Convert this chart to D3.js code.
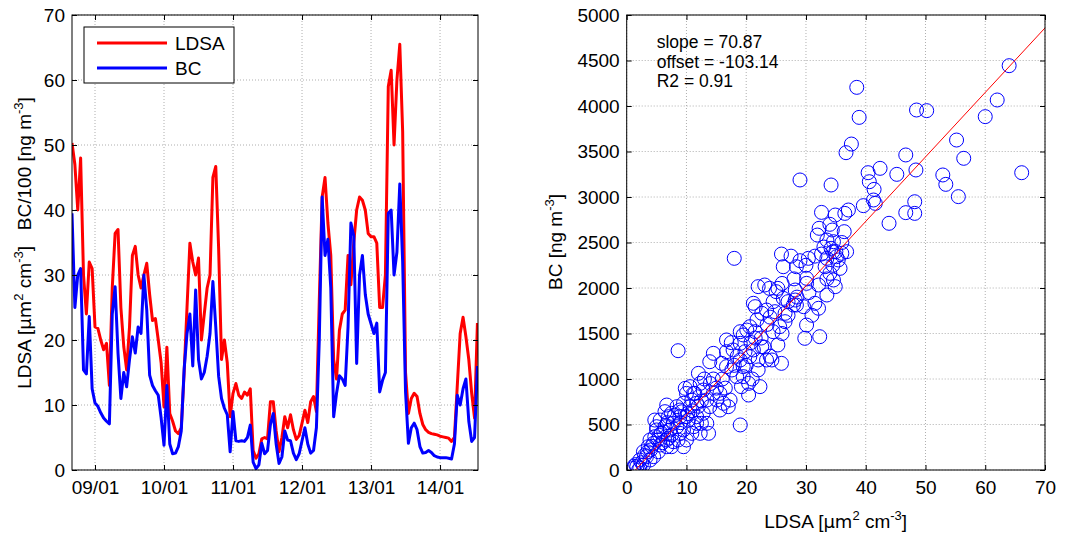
<!DOCTYPE html>
<html>
<head>
<meta charset="utf-8">
<script src="https://cdn.jsdelivr.net/npm/d3@7"></script>
<style>
  body { margin: 0; background: #fff; }
  text { font-family: Arial, "Liberation Sans", Helvetica, sans-serif; }
</style>
</head>
<body>
<div id="chart"></div>
<script>
// hourly series, starting 08/01 16:00
const ldsa = [50.3, 47, 40, 48, 30, 24, 32, 31, 22, 21.8, 20, 18.5, 19.5, 13, 28, 36.4, 37, 25, 19, 15.4,
  22, 33, 34.4, 30, 28, 30, 31.8, 27, 23, 23.3, 20, 16.5, 9.7, 18.9, 8.7, 7.5, 6, 5.6, 6.5, 15,
  25, 34.9, 32, 30, 32.6, 20, 24, 28, 30, 45, 46.7, 34, 17, 20, 16.5, 8.2, 11.8, 13.3, 11.5, 11,
  12, 11.5, 12.5, 3, 1.8, 2.5, 4.8, 5, 4.8, 10.5, 10.5, 6, 2.8, 5, 8.2, 6.5, 8.5, 6.2, 4.7, 5.3,
  7.2, 9.2, 7.3, 10.5, 11.3, 9, 26, 42, 45, 38, 33, 17, 14, 21.5, 24, 24.6, 33, 28.5, 35, 40,
  42, 41.5, 40, 36.4, 35.9, 35.9, 34.9, 25, 25, 30, 59, 61.5, 50, 60, 65.5, 52, 15, 8.7, 11, 11.8,
  11.3, 8.7, 7, 6.2, 5.8, 5.6, 5.5, 5.4, 5.2, 5.1, 5, 4.9, 4.4, 5, 13, 21, 23.5, 20.5, 17, 11.8,
  8, 22.6];
const bc100 = [39.5, 25, 30, 31, 15.4, 14.8, 23.6, 12.5, 10.3, 9.8, 8.8, 8, 7.5, 7.1, 24, 28.2, 18, 11, 15, 12.8,
  17, 20.5, 18, 22, 21, 30, 24.6, 14.6, 13, 12.2, 11.5, 8, 3.8, 13, 4, 2.5, 2.6, 3.6, 6, 15.5,
  21, 24, 16, 27.7, 17, 14, 15, 17.5, 21, 29, 22, 14.4, 11, 9.5, 8.5, 2.8, 9, 4.5, 4.4, 4.5,
  4.4, 5, 6.9, 1.2, 0.2, 0.8, 4.1, 2.5, 3, 7, 8.7, 4, 1, 2, 6, 4.6, 4.5, 2.6, 1.6, 2.5,
  4.5, 6.5, 4, 2.6, 3, 6.5, 20, 42, 33, 35.5, 28, 8.2, 11.8, 14.5, 14, 13, 22, 38, 36, 16.4,
  30, 33, 27, 24, 22.5, 21, 22.6, 12, 13.8, 15, 39.5, 40, 30, 33.5, 44, 32, 12, 4.1, 6.5, 7.2,
  6.2, 3.6, 2.6, 2.7, 3, 2.7, 2.2, 2, 1.9, 1.9, 1.9, 1.8, 1.7, 4, 11.5, 10, 12.5, 14, 7.5, 4.4,
  5, 16];
const tickDays = ["09/01", "10/01", "11/01", "12/01", "13/01", "14/01"];
const leftTicks = [0, 10, 20, 30, 40, 50, 60, 70];

// scatter: [LDSA, BC]
const scatterPts = [
  [64.0,4443],[38.5,4205],[48.5,3956],[50.2,3949],[62.0,4066],[60.0,3883],[38.9,3875],[37.6,3582],[36.7,3487],
  [55.2,3626],[56.4,3425],[46.7,3462],[48.4,3297],[42.4,3315],[40.4,3267],[45.2,3249],[52.9,3242],[53.4,3139],
  [66.1,3267],[29.0,3187],[34.2,3132],[40.6,3168],[41.4,3084],[55.5,3004],[39.6,2905],[41.3,2967],[41.6,2930],
  [48.2,2948],[46.7,2828],[48.2,2820],[32.6,2831],[34.9,2802],[36.5,2820],[37.1,2857],[43.9,2711],[32.2,2656],
  [31.9,2582],[34.4,2637],[36.4,2619],[33.5,2527],[34.6,2509],[34.2,2436],[36.8,2399],[36.0,2381],[34.5,2399],
  [32.6,2373],[35.1,2344],[25.9,2373],[30.4,2326],[18.0,2326],[33.5,2326],[35.4,2308],[26.2,2234],[28.4,2234],
  [33.2,2234],[35.7,2216],
  [30.1,2106],[34.0,2161],[34.6,2088],[34.9,2015],[32.1,2033],[33.5,1923],[30.1,2051],[28.2,1978],[28.2,1868],
  [28.4,1813],[27.0,1850],[26.2,1886],[25.0,1960],[23.9,1996],[23.1,2033],[22.0,2015],[25.3,1996],[24.8,1740],
  [23.4,1758],[22.6,1722],[21.5,1795],[20.6,1575],[21.5,1520],[24.5,1520],[25.3,1374],[25.9,1172],[24.3,1209],
  [25.6,1575],[26.5,1630],[26.5,1722],[30.1,1593],[29.8,1447],[32.3,1465],[32.1,1777],[31.5,1832],[29.6,1795],
  [27.9,1813],[19.0,495],[8.6,1311],[21.2,1832],[19.0,1520],[19.5,1484],[20.1,1538],[19.0,1392],[17.8,1319],
  [16.7,1429],[16.7,1300],[15.9,1172],[16.7,1136],[17.6,1099],[18.4,1026],[19.5,1026],[20.4,952],[20.4,824],
  [19.2,916],[22.3,916],[22.0,1209],[23.4,1209],[21.2,1319],[22.6,1355],[20.6,1245],[19.5,1136],[19.0,1209],
  [14.5,1282],[13.9,1190],[12.0,1062],[10.6,916],[9.8,897],[10.0,842],[11.2,842],[12.3,952],[12.8,879],
  [13.4,769],[14.5,842],[15.6,842],[16.2,733],[15.6,659],[17.3,769],[17.0,696],[15.1,769],[13.9,696],
  [12.8,623],[11.7,586],[10.3,549],[8.9,586],[8.4,476],[8.9,403],[7.5,385],[7.8,311],[6.7,256],[5.3,201],
  [4.5,147],[3.9,110],[2.8,55],[1.7,37],[1.1,18],[2.0,0],[13.7,403],[13.4,513],[12.5,513],[10.9,403],
  [10.0,330],[11.2,476],[9.5,256],[8.6,330],[7.8,513],[7.0,586],[5.6,549],[4.7,549],[5.0,476],[5.8,403],
  [4.7,366],[3.9,330],[3.6,256],[2.8,201],[3.3,147],[2.2,110],[6.4,641],[6.7,714],[8.4,696],[9.5,733],
  [10.6,696],[11.7,733],[10.9,769],[11.4,842],[8.9,659],[7.5,623],[5.0,440],[6.4,476],[7.3,440],[4.5,293],
  [5.6,275],[6.7,330],[7.5,256],[9.5,440],[10.0,586],[11.7,513],[12.3,403],
  [22.5,1450],[23.5,1600],[24.0,1680],[21.8,1650],[20.8,1400],[22.0,1100],[21.0,1000],[20.0,1150],[18.5,1250],
  [17.5,1400],[16.0,1000],[15.0,900],[14.0,950],[13.0,1000],[12.5,760],[11.0,650],[9.0,520],[7.0,350],
  [6.0,300],[5.2,330],[4.0,220],[3.0,160],[2.5,80],[1.5,60],[1.2,40],[2.2,20],[3.5,200],[4.2,260],
  [5.5,380],[6.2,420],[6.8,520],[8.0,600],[9.2,640],[10.2,620],[12.0,700],[14.5,1000],[16.5,900],[18.0,1150],
  [19.8,1300],[21.5,1450],[23.0,1350],[24.0,1250],[26.0,1500],[27.0,1700],[28.5,1900],[30.5,1950],[31.0,1700],
  [24.5,1850],[26.0,2050],[28.0,2100],[29.0,2300],[33.5,2100],[34.5,2250],[35.0,2400],[33.0,2450],[31.5,2350],
  [30.0,2250],[27.5,2350],[36.0,2500],[34.0,2700]
];
const fitSlope = 70.87, fitOffset = -103.14, fitR2 = 0.91;
const rightXTicks = [0, 10, 20, 30, 40, 50, 60, 70];
const rightYTicks = [0, 500, 1000, 1500, 2000, 2500, 3000, 3500, 4000, 4500, 5000];

const width = 1065, height = 540;
const svg = d3.select("#chart").append("svg")
    .attr("width", width)
    .attr("height", height);

const fs = 19;
const plotTop = 15, plotBottom = 470;

function drawGrid(g, x0, x1, xs, ys, xVals, yVals) {
    g.selectAll(null).data(xVals).enter().append("line")
        .attr("x1", d => xs(d)).attr("x2", d => xs(d))
        .attr("y1", plotTop).attr("y2", plotBottom)
        .attr("stroke", "#9a9a9a").attr("stroke-width", 0.8)
        .attr("stroke-dasharray", "1,2");
    g.selectAll(null).data(yVals).enter().append("line")
        .attr("x1", x0).attr("x2", x1)
        .attr("y1", d => ys(d)).attr("y2", d => ys(d))
        .attr("stroke", "#9a9a9a").attr("stroke-width", 0.8)
        .attr("stroke-dasharray", "1,2");
}

function drawAxes(g, x0, x1, xs, ys, xVals, yVals, xFmt) {
    const ax = [
        [d3.axisBottom(xs).tickValues(xVals).tickFormat(xFmt), `translate(0,${plotBottom})`],
        [d3.axisTop(xs).tickValues(xVals).tickFormat(""), `translate(0,${plotTop})`],
        [d3.axisLeft(ys).tickValues(yVals).tickFormat(d3.format("d")), `translate(${x0},0)`],
        [d3.axisRight(ys).tickValues(yVals).tickFormat(""), `translate(${x1},0)`]
    ];
    ax.forEach(([a, tr], i) => {
        const sel = g.append("g").attr("transform", tr)
            .call(a.tickSizeInner(-5).tickSizeOuter(0).tickPadding(i === 0 ? 11 : 7));
        sel.select(".domain").remove();
        sel.selectAll("line").attr("stroke", "#000");
        sel.selectAll("text").attr("font-size", fs).attr("fill", "#000")
            .style("font-family", "Arial, 'Liberation Sans', sans-serif");
    });
    g.append("rect").attr("x", x0).attr("y", plotTop)
        .attr("width", x1 - x0).attr("height", plotBottom - plotTop)
        .attr("fill", "none").attr("stroke", "#000").attr("stroke-width", 1);
}

// ---------- left panel: time series ----------
const lx0 = 72, lx1 = 478;
const t0 = new Date(2014, 0, 8, 16);
const times = ldsa.map((d, i) => new Date(2014, 0, 8, 16 + i));
const xTime = d3.scaleTime()
    .domain([t0, new Date(2014, 0, 14, 13, 12)])
    .range([lx0, lx1]);
const yLeft = d3.scaleLinear().domain([0, 70]).range([plotBottom, plotTop]);
const dayTicks = tickDays.map(s => new Date(2014, +s.slice(3, 5) - 1, +s.slice(0, 2)));
const dayFmt = d3.timeFormat("%d/%m");

const left = svg.append("g");
drawGrid(left, lx0, lx1, xTime, yLeft, dayTicks, leftTicks);

svg.append("clipPath").attr("id", "clipL").append("rect")
    .attr("x", lx0).attr("y", plotTop).attr("width", lx1 - lx0).attr("height", plotBottom - plotTop);

const line = d3.line().x((d, i) => xTime(times[i])).y(d => yLeft(d));
left.append("path").datum(ldsa)
    .attr("d", line).attr("fill", "none")
    .attr("stroke", "#ff0000").attr("stroke-width", 3)
    .attr("stroke-linejoin", "round").attr("clip-path", "url(#clipL)");
left.append("path").datum(bc100)
    .attr("d", line).attr("fill", "none")
    .attr("stroke", "#0000ff").attr("stroke-width", 3)
    .attr("stroke-linejoin", "round").attr("clip-path", "url(#clipL)");

drawAxes(left, lx0, lx1, xTime, yLeft, dayTicks, leftTicks, dayFmt);

// legend
const leg = left.append("g");
leg.append("rect").attr("x", 84).attr("y", 27).attr("width", 150).attr("height", 56)
    .attr("fill", "#fff").attr("stroke", "#000");
[["LDSA", "#ff0000", 43], ["BC", "#0000ff", 68]].forEach(([name, col, y]) => {
    leg.append("line").attr("x1", 97).attr("x2", 167).attr("y1", y).attr("y2", y)
        .attr("stroke", col).attr("stroke-width", 3);
    leg.append("text").attr("x", 175).attr("y", y + 7).attr("font-size", fs).text(name);
});

// y label left
const yl = left.append("text")
    .attr("transform", "translate(31,243) rotate(-90)")
    .attr("text-anchor", "middle").attr("font-size", fs);
yl.append("tspan").text("LDSA [");
yl.append("tspan").text("\u03bcm").style("font-family", "'DejaVu Sans', Arial, sans-serif").attr("font-size", 18);
yl.append("tspan").text("2").attr("font-size", 13).attr("dy", -8);
yl.append("tspan").text(" cm").attr("dy", 8);
yl.append("tspan").text("-3").attr("font-size", 13).attr("dy", -8);
yl.append("tspan").text("]\u00a0\u00a0\u00a0BC/100 [ng m").attr("dy", 8);
yl.append("tspan").text("-3").attr("font-size", 13).attr("dy", -8);
yl.append("tspan").text("]").attr("dy", 8);

// ---------- right panel: scatter ----------
const rx0 = 626.7, rx1 = 1045;
const xR = d3.scaleLinear().domain([0, 70]).range([rx0, rx1]);
const yR = d3.scaleLinear().domain([0, 5000]).range([plotBottom, plotTop]);

const right = svg.append("g");
drawGrid(right, rx0, rx1, xR, yR, rightXTicks, rightYTicks);

svg.append("clipPath").attr("id", "clipR").append("rect")
    .attr("x", rx0).attr("y", plotTop).attr("width", rx1 - rx0).attr("height", plotBottom - plotTop);

right.append("g").attr("clip-path", "url(#clipR)")
    .selectAll("circle").data(scatterPts).enter().append("circle")
    .attr("cx", d => xR(d[0])).attr("cy", d => yR(d[1]))
    .attr("r", 7).attr("fill", "none")
    .attr("stroke", "#0000ff").attr("stroke-width", 1);

const fitX0 = -fitOffset / fitSlope;
right.append("line")
    .attr("x1", xR(fitX0)).attr("y1", yR(fitSlope * fitX0 + fitOffset))
    .attr("x2", xR(70)).attr("y2", yR(fitSlope * 70 + fitOffset))
    .attr("stroke", "#ff0000").attr("stroke-width", 1);

drawAxes(right, rx0, rx1, xR, yR, rightXTicks, rightYTicks, d3.format("d"));

// fit statistics
const stats = [`slope = ${fitSlope.toFixed(2)}`, `offset = ${fitOffset.toFixed(2)}`, `R2 = ${fitR2.toFixed(2)}`];
right.selectAll(".stat").data(stats).enter().append("text")
    .attr("class", "stat")
    .attr("x", 656.7).attr("y", (d, i) => 48 + i * 19.5)
    .attr("font-size", 17.5).text(d => d);

// x label right
const xl = right.append("text").attr("x", 835.7).attr("y", 528)
    .attr("text-anchor", "middle").attr("font-size", fs);
xl.append("tspan").text("LDSA [");
xl.append("tspan").text("\u03bcm").style("font-family", "'DejaVu Sans', Arial, sans-serif").attr("font-size", 18);
xl.append("tspan").text("2").attr("font-size", 13).attr("dy", -8);
xl.append("tspan").text(" cm").attr("dy", 8);
xl.append("tspan").text("-3").attr("font-size", 13).attr("dy", -8);
xl.append("tspan").text("]").attr("dy", 8);

// y label right
const yr = right.append("text")
    .attr("transform", "translate(562,242) rotate(-90)")
    .attr("text-anchor", "middle").attr("font-size", fs);
yr.append("tspan").text("BC [ng m");
yr.append("tspan").text("-3").attr("font-size", 13).attr("dy", -8);
yr.append("tspan").text("]").attr("dy", 8);
</script>
</body>
</html>
